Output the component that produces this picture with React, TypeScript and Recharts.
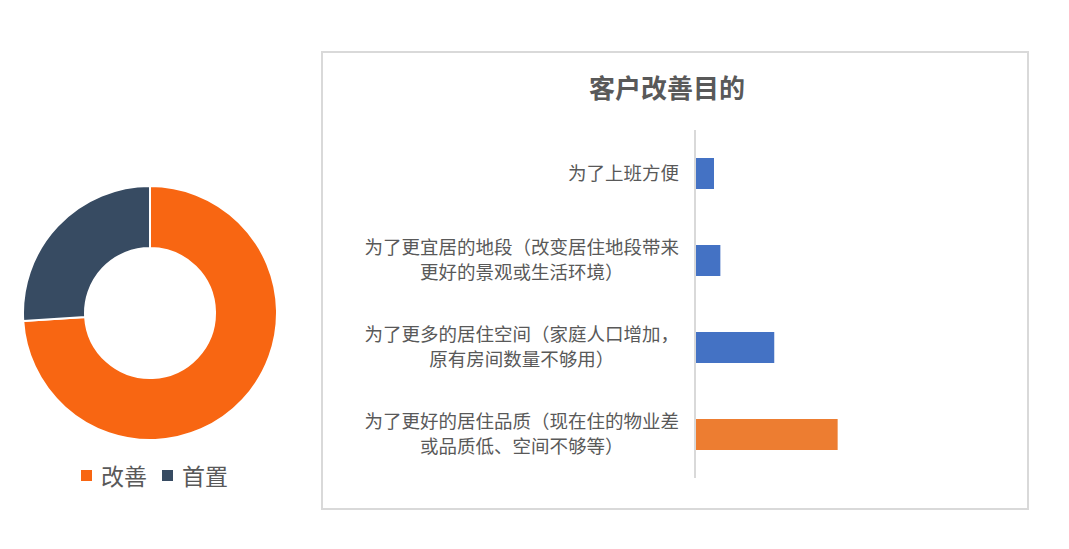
import React from "react"
import { PieChart, Pie, Cell, BarChart, Bar, XAxis, YAxis } from "recharts"

// 左侧环形图
const buyerTypes = ["改善", "首置"]
const buyerShares = [74, 26]
const buyerColors = ["#F86612", "#374B62"]

// 右侧条形图
const purposes = [
    "为了上班方便",
    "为了更宜居的地段（改变居住地段带来更好的景观或生活环境）",
    "为了更多的居住空间（家庭人口增加，原有房间数量不够用）",
    "为了更好的居住品质（现在住的物业差或品质低、空间不够等）",
]
const purposeLines = [
    ["为了上班方便"],
    ["为了更宜居的地段（改变居住地段带来", "更好的景观或生活环境）"],
    ["为了更多的居住空间（家庭人口增加，", "原有房间数量不够用）"],
    ["为了更好的居住品质（现在住的物业差", "或品质低、空间不够等）"],
]
const purposeValues = [6, 8, 25, 45]
const purposeColors = ["#4472C4", "#4472C4", "#4472C4", "#ED7D31"]

const FONT = '"Noto Sans CJK SC", "Microsoft YaHei", sans-serif'
const TEXT = "#595959"

const pieData = buyerTypes.map((name, i) => ({ name, value: buyerShares[i] }))
const barData = purposes.map((name, i) => ({ name, value: purposeValues[i], lines: purposeLines[i] }))

function PurposeTick({ x, y, payload, index }: any) {
    const lines: string[] = purposeLines[index ?? payload.index] || [payload.value]
    const fs = 18.5
    const lineH = 25
    const right = x - 10
    const width = lines[0].length * fs
    const cx = lines.length > 1 ? right - width / 2 : right
    const anchor = lines.length > 1 ? "middle" : "end"
    const y0 = y - ((lines.length - 1) * lineH) / 2
    return (
        <g>
            {lines.map((line, i) => (
                <text
                    key={i}
                    x={cx}
                    y={y0 + i * lineH}
                    dy="0.35em"
                    textAnchor={anchor}
                    fill={TEXT}
                    fontSize={fs}
                    fontFamily={FONT}
                >
                    {line}
                </text>
            ))}
        </g>
    )
}

export default function App() {
    return (
        <div style={{ position: "absolute", left: 0, top: 0, width: 1069, height: 549, background: "#fff", fontFamily: FONT }}>
            {/* 环形图 */}
            <div style={{ position: "absolute", left: 0, top: 162.5 }}>
                <PieChart width={300} height={300}>
                    <Pie
                        data={pieData}
                        dataKey="value"
                        nameKey="name"
                        cx={145}
                        cy={145}
                        innerRadius={65}
                        outerRadius={127}
                        startAngle={90}
                        endAngle={-270}
                        stroke="#fff"
                        strokeWidth={2}
                        isAnimationActive={false}
                    >
                        {pieData.map((entry, i) => (
                            <Cell key={`slice-${i}`} fill={buyerColors[i]} />
                        ))}
                    </Pie>
                </PieChart>
            </div>
            {/* 图例 */}
            <div style={{ position: "absolute", left: 81, top: 460, display: "flex", alignItems: "center", fontSize: 23, color: TEXT, lineHeight: "30px" }}>
                {buyerTypes.map((name, i) => (
                    <div key={name} style={{ display: "flex", alignItems: "center", marginRight: 15 }}>
                        <span style={{ width: 11, height: 11, background: buyerColors[i], marginRight: 9, display: "inline-block" }} />
                        <span>{name}</span>
                    </div>
                ))}
            </div>

            {/* 右侧边框 */}
            <div style={{ position: "absolute", left: 321, top: 51, width: 704, height: 455, border: "2px solid #d9d9d9", boxSizing: "content-box" }} />
            <div style={{ position: "absolute", left: 560, top: 70, width: 214, textAlign: "center", fontSize: 26, fontWeight: "bold", color: TEXT, lineHeight: "34px" }}>
                客户改善目的
            </div>
            <div style={{ position: "absolute", left: 330, top: 120 }}>
                <BarChart
                    width={690}
                    height={370}
                    data={barData}
                    layout="vertical"
                    margin={{ top: 10, right: 8, bottom: 12, left: 0 }}
                    barCategoryGap={28}
                >
                    <XAxis type="number" domain={[0, 100]} hide />
                    <YAxis
                        type="category"
                        dataKey="name"
                        width={365}
                        axisLine={{ stroke: "#d9d9d9", strokeWidth: 2 }}
                        tickLine={false}
                        tick={<PurposeTick />}
                        interval={0}
                        tickMargin={0}
                    />
                    <Bar dataKey="value" barSize={31} isAnimationActive={false}>
                        {barData.map((entry, i) => (
                            <Cell key={`bar-${i}`} fill={purposeColors[i]} />
                        ))}
                    </Bar>
                </BarChart>
            </div>
        </div>
    )
}
